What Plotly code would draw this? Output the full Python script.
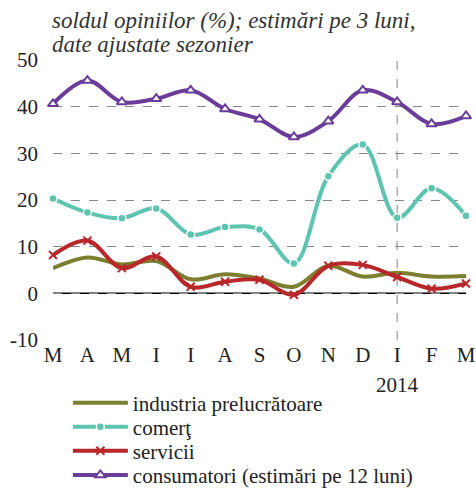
import plotly.graph_objects as go

months = ["M", "A", "M", "I", "I", "A", "S", "O", "N", "D", "I", "F", "M"]
industria = [5.4, 7.7, 6.2, 6.9, 3.0, 4.1, 3.2, 1.4, 5.9, 3.6, 4.4, 3.6, 3.7]
comert = [20.3, 17.3, 16.1, 18.2, 12.6, 14.2, 13.7, 6.4, 25.1, 31.9, 16.2, 22.5, 16.6]
servicii = [8.2, 11.3, 5.4, 7.9, 1.4, 2.5, 2.9, -0.3, 5.9, 6.1, 3.5, 1.0, 2.1]
consumatori = [40.6, 45.6, 41.0, 41.7, 43.5, 39.5, 37.3, 33.5, 36.9, 43.5, 41.0, 36.3, 38.0]
y_ticks = [-10, 0, 10, 20, 30, 40, 50]
y_ticktext = ["-10", "0", "10", "20", "30", "40", "50"]
year_label = "2014"
year_index = 10
title_lines = ["soldul opiniilor (%); estimări pe 3 luni,", "date ajustate sezonier"]

x = list(range(len(months)))
serif = "Liberation Serif"

fig = go.Figure()
fig.add_trace(go.Scatter(x=x, y=industria, name="industria prelucrătoare", mode="lines",
                         cliponaxis=False, legend="legend",
                         line=dict(color="#7b7f2f", width=4, shape="spline", smoothing=1)))
fig.add_trace(go.Scatter(x=x, y=comert, name="comerţ", mode="lines+markers",
                         cliponaxis=False, legend="legend2",
                         line=dict(color="#5dc4b0", width=4, shape="spline", smoothing=1),
                         marker=dict(symbol="circle", size=8, color="#5dc4b0",
                                     line=dict(color="white", width=1.5))))
fig.add_trace(go.Scatter(x=x, y=servicii, name="servicii", mode="lines+markers",
                         cliponaxis=False, legend="legend3",
                         line=dict(color="#b8272a", width=4, shape="spline", smoothing=1),
                         marker=dict(symbol="x-thin", size=8, color="#b8272a",
                                     line=dict(color="#b8272a", width=2))))
fig.add_trace(go.Scatter(x=x, y=consumatori, name="consumatori (estimări pe 12 luni)", mode="lines+markers",
                         cliponaxis=False, legend="legend4",
                         line=dict(color="#6a3d9a", width=4, shape="spline", smoothing=1),
                         marker=dict(symbol="triangle-up", size=9, color="white",
                                     line=dict(color="#6a3d9a", width=2))))

# vertical dashed line at January 2014
fig.add_shape(type="line", xref="x", yref="y", x0=year_index, x1=year_index, y0=-10, y1=50,
              line=dict(color="#999999", width=1.2, dash="dash"), layer="below")
# zero line
fig.add_shape(type="line", xref="x", yref="y", x0=0, x1=12, y0=0, y1=0,
              line=dict(color="black", width=1.5), layer="below")

fig.add_annotation(x=year_index, y=0, xref="x", yref="paper", yshift=-31, text=year_label,
                   showarrow=False, yanchor="top", font=dict(family=serif, size=21, color="#222"))
for i, line_text in enumerate(title_lines):
    fig.add_annotation(x=0, y=1, xref="paper", yref="paper", xanchor="left", yanchor="middle",
                       yshift=40 - 24 * i, xshift=-3, align="left", text=line_text,
                       showarrow=False,
                       font=dict(family=serif, size=23, color="#333", style="italic"))

leg_common = dict(xanchor="left", yanchor="middle", orientation="v",
                  font=dict(family=serif, size=21, color="#222"), itemwidth=55,
                  bgcolor="rgba(0,0,0,0)")
leg_rows = [-0.225, -0.311, -0.397, -0.483]

fig.update_layout(
    width=476, height=488,
    margin=dict(l=53, r=10, t=60, b=148, autoexpand=False),
    paper_bgcolor="white", plot_bgcolor="white",
    font=dict(family=serif, size=21, color="#222"),
    showlegend=True,
    legend=dict(x=0.036, y=leg_rows[0], **leg_common),
    legend2=dict(x=0.036, y=leg_rows[1], **leg_common),
    legend3=dict(x=0.036, y=leg_rows[2], **leg_common),
    legend4=dict(x=0.036, y=leg_rows[3], **leg_common),
    xaxis=dict(range=[0, 12], tickvals=x, ticktext=months, showgrid=False, zeroline=False,
               showline=False, ticks="", tickfont=dict(family=serif, size=21)),
    yaxis=dict(range=[-10, 50], tickvals=y_ticks, ticktext=y_ticktext, showgrid=True,
               gridcolor="#888888", griddash="dash", gridwidth=1, zeroline=False,
               showline=False, ticks="", ticklabelstandoff=14,
               tickfont=dict(family=serif, size=21)),
)

fig.write_html("out.html")
